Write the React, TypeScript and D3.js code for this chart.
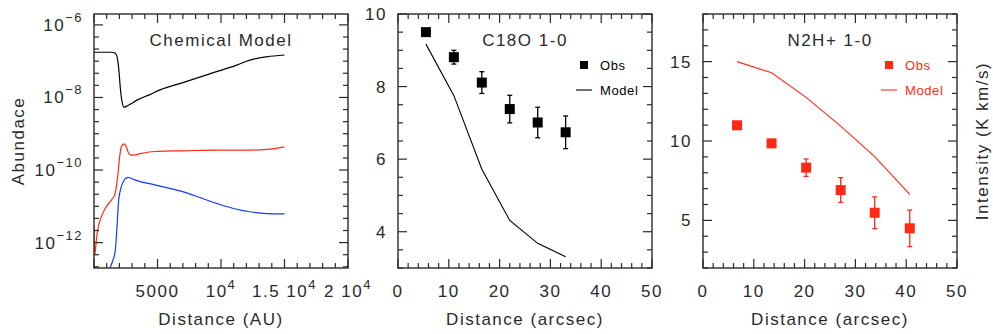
import * as d3 from "d3";

// chemical model profiles (distance in AU, abundance)
const chemDistH = [0, 1400, 1600, 1760, 1945, 2073, 2205, 2362, 2677, 3465, 4400, 5200, 7000, 9650, 11230, 12280, 13600, 15000];
const chemAbundH = [1.76e-7, 1.76e-7, 1.7e-7, 1.51e-7, 6.46e-8, 1.82e-8, 7.76e-9, 5.37e-9, 6.03e-9, 8.71e-9, 1.2e-8, 1.62e-8, 2.57e-8, 5.13e-8, 7.76e-8, 1.07e-7, 1.32e-7, 1.48e-7];

const chemDistR = [0, 60, 184, 315, 577, 971, 1365, 1627, 1758, 1890, 2021, 2152, 2336, 2546, 2729, 2940, 3100, 3727, 4777, 7034, 9659, 12283, 13596, 15000];
const chemAbundR = [2.88e-12, 4.57e-13, 1.17e-12, 2.45e-12, 5.13e-12, 9.77e-12, 1.48e-11, 2.04e-11, 3.47e-11, 8.13e-11, 2.34e-10, 4.37e-10, 5.25e-10, 4.37e-10, 2.88e-10, 2.57e-10, 2.57e-10, 2.88e-10, 3.24e-10, 3.39e-10, 3.55e-10, 3.55e-10, 3.72e-10, 4.37e-10];

const chemDistB = [1234, 1496, 1680, 1811, 1942, 2152, 2415, 2677, 3202, 4777, 7034, 9659, 11234, 12283, 13596, 15000];
const chemAbundB = [1.95e-13, 3.31e-13, 6.31e-13, 2.75e-12, 1.48e-11, 3.47e-11, 5.5e-11, 6.31e-11, 5.37e-11, 3.89e-11, 2.51e-11, 1.2e-11, 8.32e-12, 7.08e-12, 6.31e-12, 6.17e-12];

// C18O 1-0
const c18oDist = [5.5, 11, 16.5, 22, 27.5, 33];
const c18oObs = [9.5, 8.81, 8.11, 7.38, 7.01, 6.74];
const c18oErr = [0.08, 0.19, 0.3, 0.38, 0.42, 0.45];
const c18oModel = [9.17, 7.75, 5.72, 4.31, 3.68, 3.31];

// N2H+ 1-0
const n2hDist = [6.7, 13.5, 20.3, 27.1, 33.8, 40.7];
const n2hObs = [10.99, 9.85, 8.32, 6.91, 5.48, 4.5];
const n2hErr = [0.15, 0.25, 0.55, 0.78, 1.0, 1.15];
const n2hModel = [15.0, 14.3, 12.75, 10.94, 9.01, 6.64];

const auTicks = [5000, 10000, 15000, 20000];
const abundExps = [-12, -10, -8, -6];

const FONT = "'Liberation Sans', Arial, sans-serif";
const INK = "#2a2a2a";
const RED = "#ff2a14";
const BLUE = "#1838ff";

const TOP = 14;
const BOTTOM = 268;
const PW = 254;

type Sc = (v: number) => number;

function Frame({
  x,
  y,
  xMaj,
  xMin,
  yMaj,
  yMin,
}: {
  x: Sc & { range: () => number[] };
  y: Sc & { range: () => number[] };
  xMaj: number[];
  xMin: number[];
  yMaj: number[];
  yMin: number[];
}) {
  const [x0, x1] = x.range();
  const [y0, y1] = y.range();
  const big = 9;
  const small = 5;
  return (
    <g stroke={INK} strokeWidth={1.2} fill="none">
      {xMaj.concat(xMin).map((v, i) => {
        const len = i < xMaj.length ? big : small;
        const px = x(v);
        return (
          <g key={"x" + i}>
            <line x1={px} x2={px} y1={y0} y2={y0 - len} />
            <line x1={px} x2={px} y1={y1} y2={y1 + len} />
          </g>
        );
      })}
      {yMaj.concat(yMin).map((v, i) => {
        const len = i < yMaj.length ? big : small;
        const py = y(v);
        return (
          <g key={"y" + i}>
            <line x1={x0} x2={x0 + len} y1={py} y2={py} />
            <line x1={x1} x2={x1 - len} y1={py} y2={py} />
          </g>
        );
      })}
      <rect x={x0} y={y1} width={x1 - x0} height={y0 - y1} strokeWidth={1.4} />
    </g>
  );
}

const txt = {
  fontFamily: FONT,
  fill: INK,
  letterSpacing: "1.5px",
} as const;

function ChemPanel({ left }: { left: number }) {
  const x = d3.scaleLinear().domain([0, 20000]).range([left, left + PW]);
  const y = d3.scaleLog().domain([10 ** -12.7, 10 ** -5.7]).range([BOTTOM, TOP]);
  const xMin = d3.range(0, 20001, 1000).filter((v) => v % 5000 !== 0);
  const yMin = d3
    .range(-38, -16)
    .map((k) => k / 3)
    .filter((e) => e >= -12.7 && e <= -5.7 && Math.abs(e - Math.round(e / 2) * 2) > 0.01)
    .map((e) => 10 ** e);
  const line = d3
    .line<[number, number]>()
    .x((d) => x(d[0]))
    .y((d) => y(d[1]))
    .curve(d3.curveMonotoneX);
  const series = [
    { d: chemDistH, a: chemAbundH, c: "#000" },
    { d: chemDistR, a: chemAbundR, c: RED },
    { d: chemDistB, a: chemAbundB, c: BLUE },
  ];
  const cx = left + PW / 2;
  return (
    <g>
      <defs>
        <clipPath id="chemclip">
          <rect x={left} y={TOP} width={PW} height={BOTTOM - TOP} />
        </clipPath>
      </defs>
      <g clipPath="url(#chemclip)">
        {series.map((s, i) => (
          <path
            key={i}
            d={line(s.d.map((v, j) => [v, s.a[j]] as [number, number])) || ""}
            fill="none"
            stroke={s.c}
            strokeWidth={1.2}
          />
        ))}
      </g>
      <Frame
        x={x as any}
        y={y as any}
        xMaj={[0, ...auTicks]}
        xMin={xMin}
        yMaj={abundExps.map((e) => 10 ** e)}
        yMin={yMin}
      />
      {abundExps.map((e) => (
        <text key={e} x={left - 11} y={y(10 ** e) + 6} textAnchor="end" fontSize={17} style={txt}>
          10
          <tspan fontSize={13} dy={-9}>
            {"\u2212" + Math.abs(e)}
          </tspan>
        </text>
      ))}
      {auTicks.map((v) => {
        const m = v / 10000;
        return (
          <text key={v} x={x(v)} y={297} textAnchor="middle" fontSize={17} style={txt}>
            {v === 5000 ? (
              "5000"
            ) : (
              <>
                {(m === 1 ? "" : m + " ") + "10"}
                <tspan fontSize={13} dy={-8}>
                  4
                </tspan>
              </>
            )}
          </text>
        );
      })}
      <text x={cx} y={46} textAnchor="middle" fontSize={17} style={txt}>
        Chemical Model
      </text>
      <text x={cx} y={325} textAnchor="middle" fontSize={17} style={txt}>
        Distance (AU)
      </text>
      <text
        transform={`translate(24,${(TOP + BOTTOM) / 2}) rotate(-90)`}
        textAnchor="middle"
        fontSize={17}
        style={txt}
      >
        Abundace
      </text>
    </g>
  );
}

function LinePanel({
  left,
  yDomain,
  yMajStep,
  yMinStep,
  dist,
  obs,
  err,
  model,
  color,
  title,
  ylabel,
}: {
  left: number;
  yDomain: [number, number];
  yMajStep: number;
  yMinStep: number;
  dist: number[];
  obs: number[];
  err: number[];
  model: number[];
  color: string;
  title: string;
  ylabel?: string;
}) {
  const x = d3.scaleLinear().domain([0, 50]).range([left, left + PW]);
  const y = d3.scaleLinear().domain(yDomain).range([BOTTOM, TOP]);
  const xMaj = d3.range(0, 51, 10);
  const xMin = d3.range(0, 51, 2).filter((v) => v % 10 !== 0);
  const yMaj = d3.range(Math.ceil(yDomain[0] / yMajStep) * yMajStep, yDomain[1] + 1e-9, yMajStep);
  const yMin = d3
    .range(Math.ceil(yDomain[0] / yMinStep) * yMinStep, yDomain[1] + 1e-9, yMinStep)
    .filter((v) => Math.abs(v / yMajStep - Math.round(v / yMajStep)) > 1e-6);
  const line = d3
    .line<number>()
    .x((_, i) => x(dist[i]))
    .y((d) => y(d));
  const right = left + PW;
  const cx = left + PW / 2;
  const sq = 10;
  return (
    <g>
      <Frame x={x as any} y={y as any} xMaj={xMaj} xMin={xMin} yMaj={yMaj} yMin={yMin} />
      <path d={line(model) || ""} fill="none" stroke={color} strokeWidth={1.1} />
      {obs.map((v, i) => {
        const px = x(dist[i]);
        return (
          <g key={i} stroke={color} strokeWidth={1.3}>
            <line x1={px} x2={px} y1={y(v - err[i])} y2={y(v + err[i])} />
            <line x1={px - 2.5} x2={px + 2.5} y1={y(v - err[i])} y2={y(v - err[i])} />
            <line x1={px - 2.5} x2={px + 2.5} y1={y(v + err[i])} y2={y(v + err[i])} />
            <rect x={px - sq / 2} y={y(v) - sq / 2} width={sq} height={sq} fill={color} stroke="none" />
          </g>
        );
      })}
      {/* legend */}
      <rect x={right - 72} y={61} width={8} height={8} fill={color} />
      <text x={right - 52} y={70} fontSize={13} style={{ ...txt, fill: color, letterSpacing: "0.6px" }}>
        Obs
      </text>
      <line x1={right - 76} x2={right - 60} y1={90} y2={90} stroke={color} strokeWidth={1.1} />
      <text x={right - 52} y={95} fontSize={13} style={{ ...txt, fill: color, letterSpacing: "0.6px" }}>
        Model
      </text>
      {yMaj.map((v) => (
        <text key={v} x={left - 11} y={y(v) + 6} textAnchor="end" fontSize={17} style={txt}>
          {v}
        </text>
      ))}
      {xMaj.map((v) => (
        <text key={v} x={x(v)} y={297} textAnchor="middle" fontSize={17} style={txt}>
          {v}
        </text>
      ))}
      <text x={cx} y={46} textAnchor="middle" fontSize={17} style={txt}>
        {title}
      </text>
      <text x={cx} y={325} textAnchor="middle" fontSize={17} style={txt}>
        Distance (arcsec)
      </text>
      {ylabel && (
        <text
          transform={`translate(${right + 31},${(TOP + BOTTOM) / 2}) rotate(-90)`}
          textAnchor="middle"
          fontSize={17}
          style={txt}
        >
          {ylabel}
        </text>
      )}
    </g>
  );
}

export default function App() {
  return (
    <svg
      width={993}
      height={334}
      style={{ position: "absolute", left: 0, top: 0, background: "#fff" }}
    >
      <ChemPanel left={94} />
      <LinePanel
        left={398}
        yDomain={[3, 10]}
        yMajStep={2}
        yMinStep={0.5}
        dist={c18oDist}
        obs={c18oObs}
        err={c18oErr}
        model={c18oModel}
        color="#000"
        title="C18O 1-0"
      />
      <LinePanel
        left={703}
        yDomain={[2, 18]}
        yMajStep={5}
        yMinStep={1}
        dist={n2hDist}
        obs={n2hObs}
        err={n2hErr}
        model={n2hModel}
        color={RED}
        title="N2H+ 1-0"
        ylabel="Intensity (K km/s)"
      />
    </svg>
  );
}
